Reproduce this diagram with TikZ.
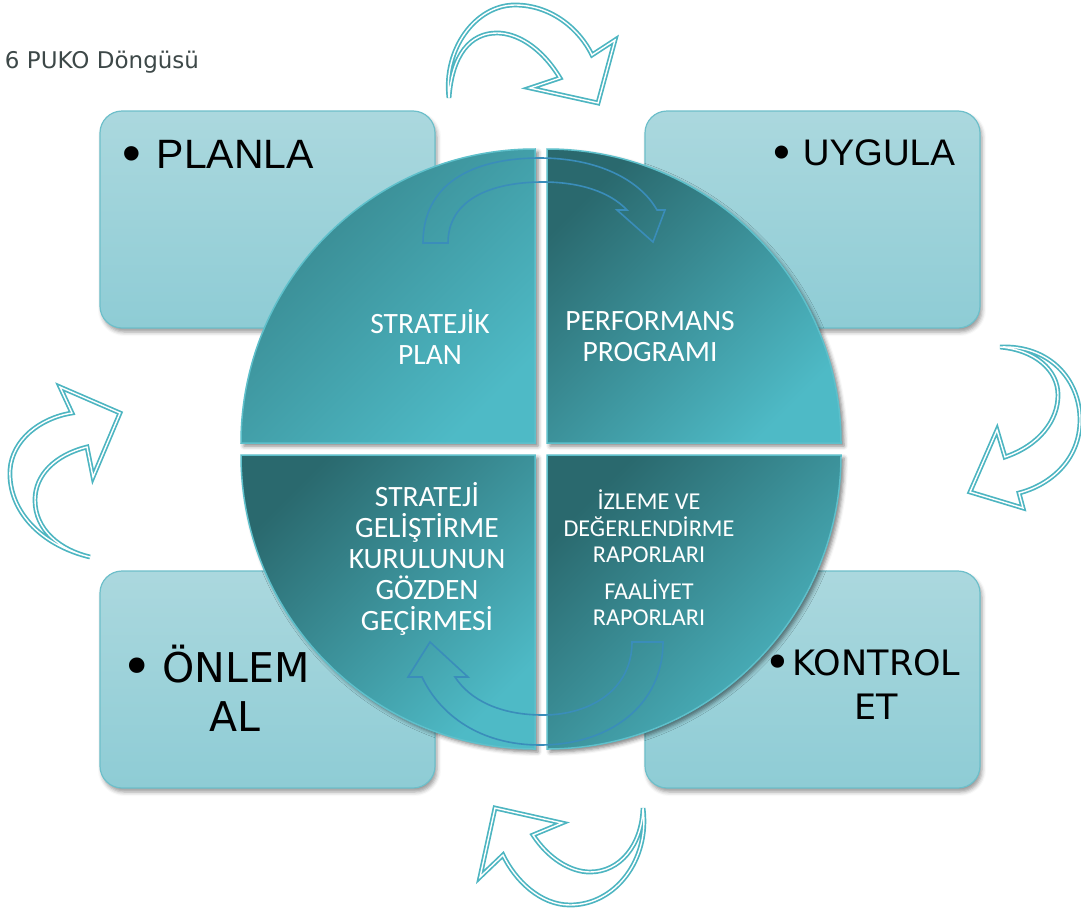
\documentclass[tikz,border=0pt]{standalone}
\usepackage{fontspec}
\usepackage{graphicx}
\setmainfont{Carlito}
\newfontfamily\boxfontA{Liberation Sans}
\newfontfamily\boxfontB{DejaVu Sans}
\newfontfamily\titlefont{DejaVu Sans}
\usetikzlibrary{shadows.blur}

\definecolor{quadDark}{HTML}{2A696E}
\definecolor{quadDarkSoft}{HTML}{37858C}
\definecolor{quadLight}{HTML}{4EBAC6}
\definecolor{quadEdge}{HTML}{5EC0CB}
\definecolor{boxTop}{HTML}{ABD8DE}
\definecolor{boxBottom}{HTML}{8ECCD5}
\definecolor{boxEdge}{HTML}{6DBFCA}
\definecolor{cycleArrow}{HTML}{4DB5C1}
\definecolor{innerArrow}{HTML}{3A8DBA}
\definecolor{titleGrey}{HTML}{3D4848}

\newcommand{\bigdot}{\raisebox{-3.5pt}{\scalebox{1.3}{•}}}

\begin{document}
\begin{tikzpicture}[x=1pt,y=-1pt,
  every node/.style={inner sep=0pt, outer sep=0pt},
  phasebox/.style={rounded corners=22pt, top color=boxTop, bottom color=boxBottom,
    draw=boxEdge, line width=1.2pt,
    blur shadow={shadow xshift=2pt, shadow yshift=-4pt, shadow blur radius=4pt, shadow opacity=40}},
  quadrant/.style={top color=quadDark, bottom color=quadLight, shading angle=45,
    draw=quadEdge, line width=1.5pt,
    blur shadow={shadow xshift=3pt, shadow yshift=-3pt, shadow blur radius=4pt, shadow opacity=50}},
  quadtext/.style={text=white, align=center, font=\fontsize{29.5}{31}\selectfont},
  reporttext/.style={text=white, align=center, font=\fontsize{24.2}{26.5}\selectfont},
  labelA/.style={anchor=base west, text=black},
  innerturn/.style={draw=innerArrow, line width=1.6pt, line join=miter},
  cyclearrow/.style={draw=cycleArrow, double=white, double distance=1.4pt, line width=1.7pt, line join=miter}
]
\useasboundingbox (0,0) rectangle (1081,913);

% four phase boxes
\node[phasebox, minimum width=335pt, minimum height=217pt] (planbox) at (267.5,219.5) {};
\node[phasebox, minimum width=335pt, minimum height=217pt] (dobox) at (812.5,219.5) {};
\node[phasebox, minimum width=335pt, minimum height=217pt] (actbox) at (267.5,679.5) {};
\node[phasebox, minimum width=335pt, minimum height=217pt] (checkbox) at (812.5,679.5) {};

% box titles
\node[labelA, font=\boxfontA\fontsize{41}{48}\selectfont] (plantitle) at (122,168) {\bigdot\hspace{16pt}PLANLA};
\node[anchor=base east, font=\boxfontA\fontsize{37}{44}\selectfont] (dotitle) at (955,165) {\bigdot\hspace{13pt}UYGULA};
\node[labelA, font=\boxfontB\fontsize{41}{48}\selectfont] (acttitle) at (121,682) {\bigdot\hspace{10pt}ÖNLEM};
\node[anchor=base, font=\boxfontB\fontsize{41}{48}\selectfont] (acttitleb) at (235,731) {AL};
\node[labelA, font=\boxfontB\fontsize{35}{44}\selectfont] (checktitle) at (764,675) {\bigdot\hspace{2pt}KONTROL};
\node[anchor=base, font=\boxfontB\fontsize{35}{44}\selectfont] (checktitleb) at (876,719) {ET};

% the split circle
\path[quadrant, top color=quadDarkSoft, shading angle=45] (535,443) -- (241,443) .. controls (241,280.6) and (372.6,149) .. (535,149) -- cycle;
\path[quadrant] (547,443) -- (547,149) .. controls (709.4,149) and (841,280.6) .. (841,443) -- cycle;
\path[quadrant] (535,455) -- (535,749) .. controls (372.6,749) and (241,617.4) .. (241,455) -- cycle;
\path[quadrant] (547,455) -- (841,455) .. controls (841,617.4) and (709.4,749) .. (547,749) -- cycle;

% quadrant texts
\node[quadtext] (plantext) at (430,337) {STRATEJİK\\PLAN};
\node[quadtext] (perftext) at (650,337) {PERFORMANS\\PROGRAMI};
\node[quadtext] (reviewtext) at (427,559) {STRATEJİ\\GELİŞTİRME\\KURULUNUN\\GÖZDEN\\GEÇİRMESİ};
\node[reporttext] (reporttext) at (649,558) {İZLEME VE\\DEĞERLENDİRME\\RAPORLARI\\[10pt]FAALİYET\\RAPORLARI};

% circular arrows inside the circle
\draw[innerturn] (423,243) .. controls (423,185) and (470,158) .. (540,158)
  .. controls (598,158) and (640,180) .. (657,210) -- (665,210) -- (653,242) -- (617,210) -- (627,210)
  .. controls (610,192) and (580,182) .. (543,182) .. controls (490,182) and (448,200) .. (448,243) -- cycle;
\draw[innerturn] (663,642) .. controls (663,705) and (610,745) .. (540,745)
  .. controls (480,745) and (440,715) .. (422,677) -- (408,677) -- (430,642) -- (468,677) -- (455,677)
  .. controls (470,700) and (500,715) .. (543,715) .. controls (590,715) and (632,690) .. (632,642) -- cycle;

% curved arrows around the cycle
\draw[cyclearrow] (449,98) .. controls (443,50) and (475,5) .. (515,5) .. controls (552,5) and (580,30) .. (592,55)
  -- (615,40) -- (598,103) -- (530,88) -- (560,78)
  .. controls (540,45) and (515,33) .. (497,33) .. controls (470,33) and (452,55) .. (449,98) -- cycle;
\draw[cyclearrow] (1000,347) .. controls (1050,345) and (1080,380) .. (1080,420) .. controls (1080,460) and (1050,485) .. (1019,493)
  -- (1023,508) -- (970,492) -- (997,430) -- (1005,457)
  .. controls (1040,445) and (1058,420) .. (1058,395) .. controls (1058,370) and (1035,350) .. (1000,347) -- cycle;
\draw[cyclearrow] (643,808) .. controls (650,860) and (615,905) .. (570,905) .. controls (540,905) and (515,880) .. (503,855)
  -- (480,877) -- (495,808) -- (562,823) -- (533,835)
  .. controls (548,858) and (570,872) .. (590,872) .. controls (620,872) and (642,845) .. (643,808) -- cycle;
\draw[cyclearrow] (90,557) .. controls (40,545) and (8,510) .. (10,470) .. controls (12,440) and (40,418) .. (72,413)
  -- (60,387) -- (120,413) -- (93,477) -- (87,447)
  .. controls (55,455) and (35,475) .. (35,500) .. controls (35,530) and (60,550) .. (90,557) -- cycle;

% caption
\node[anchor=base west, font=\titlefont\fontsize{23}{26}\selectfont, text=titleGrey] (title) at (5,68) {6 PUKO Döngüsü};
\end{tikzpicture}
\end{document}
